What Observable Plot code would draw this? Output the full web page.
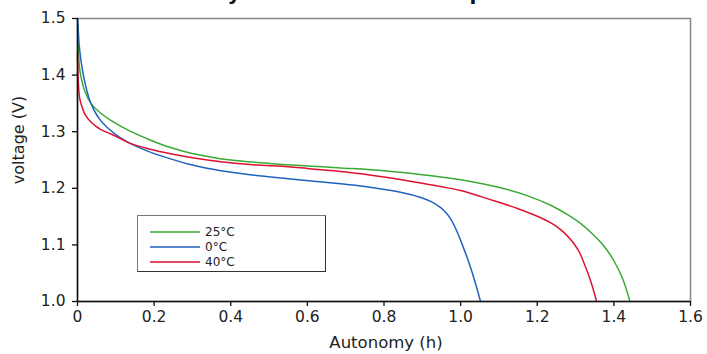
<!DOCTYPE html>
<html>
<head>
<meta charset="utf-8">
<script src="https://cdn.jsdelivr.net/npm/d3@7"></script>
<script src="https://cdn.jsdelivr.net/npm/@observablehq/plot@0.6"></script>
<style>
  html, body { margin: 0; padding: 0; background: #fff; overflow: hidden; }
  #wrap { position: relative; width: 707px; height: 354px; font-family: "DejaVu Sans", sans-serif; }
  #legend { position: absolute; left: 137px; top: 215px; width: 189px; height: 57px;
            border: 1px solid #777; border-right-color: #333; border-bottom-color: #333; background: #fff;
            font-size: 12px; color: #222; box-sizing: border-box; }
  .row { position: absolute; left: 12px; height: 15px; display: flex; align-items: center; }
  .row svg { margin-right: 5px; }
</style>
</head>
<body>
<div id="wrap"></div>
<script>
const title = "Battery life at different temperatures";
const xLabel = "Autonomy (h)";
const yLabel = "voltage (V)";
const series = ["25°C", "0°C", "40°C"];
const colors = ["#3aa935", "#1f63bd", "#dd1230"];

const xTicks = [0, 0.2, 0.4, 0.6, 0.8, 1.0, 1.2, 1.4, 1.6];
const xTickLabels = ["0", "0.2", "0.4", "0.6", "0.8", "1.0", "1.2", "1.4", "1.6"];
const yTicks = [1.0, 1.1, 1.2, 1.3, 1.4, 1.5];
const yTickLabels = ["1.0", "1.1", "1.2", "1.3", "1.4", "1.5"];

// 25°C
const t25Time = [0, 0.002, 0.005, 0.009, 0.02, 0.035, 0.06, 0.087, 0.14, 0.191, 0.243, 0.296, 0.35, 0.40, 0.5, 0.6, 0.687, 0.8, 0.9, 0.948, 1.0, 1.05, 1.104, 1.17, 1.235, 1.28, 1.313, 1.34, 1.365, 1.385, 1.40, 1.422, 1.442];
const t25Volt = [1.49, 1.45, 1.415, 1.397, 1.37, 1.35, 1.333, 1.32, 1.30, 1.285, 1.272, 1.262, 1.255, 1.250, 1.244, 1.2395, 1.236, 1.231, 1.224, 1.220, 1.215, 1.209, 1.201, 1.188, 1.170, 1.153, 1.138, 1.122, 1.105, 1.088, 1.072, 1.042, 1.0];
// 0°C
const t0Time = [0, 0.002, 0.004, 0.009, 0.02, 0.035, 0.06, 0.1, 0.139, 0.19, 0.243, 0.3, 0.374, 0.45, 0.55, 0.687, 0.75, 0.843, 0.9, 0.922, 0.948, 0.962, 0.974, 0.987, 1.0, 1.026, 1.052];
const t0Volt = [1.5, 1.48, 1.456, 1.426, 1.385, 1.35, 1.32, 1.295, 1.279, 1.264, 1.252, 1.241, 1.231, 1.224, 1.217, 1.208, 1.203, 1.193, 1.183, 1.177, 1.166, 1.157, 1.146, 1.129, 1.108, 1.06, 1.0];
// 40°C
const t40Time = [0, 0.002, 0.005, 0.009, 0.02, 0.035, 0.06, 0.087, 0.139, 0.19, 0.243, 0.3, 0.374, 0.45, 0.55, 0.6, 0.7, 0.8, 0.9, 0.948, 1.0, 1.078, 1.15, 1.209, 1.24, 1.261, 1.28, 1.296, 1.31, 1.322, 1.34, 1.355];
const t40Volt = [1.44, 1.39, 1.362, 1.35, 1.33, 1.317, 1.304, 1.296, 1.279, 1.269, 1.261, 1.254, 1.247, 1.242, 1.238, 1.235, 1.229, 1.220, 1.209, 1.203, 1.196, 1.180, 1.164, 1.148, 1.137, 1.127, 1.115, 1.102, 1.087, 1.068, 1.035, 1.0];

const times = [t25Time, t0Time, t40Time];
const volts = [t25Volt, t0Volt, t40Volt];
const data = series.flatMap((s, i) => times[i].map((t, j) => ({series: s, t, v: volts[i][j]})));

const fmt = (ticks, labels) => d => labels[ticks.findIndex(t => Math.abs(t - d) < 1e-9)];

const chart = Plot.plot({
  width: 707, height: 354,
  marginLeft: 77, marginRight: 17, marginTop: 18, marginBottom: 53,
  style: {fontFamily: "'DejaVu Sans', sans-serif", fontSize: "15px", color: "#222", background: "transparent", overflow: "visible"},
  x: {domain: [0, 1.6], label: null},
  y: {domain: [1.0, 1.5], label: null},
  color: {domain: series, range: colors},
  marks: [
    Plot.frame({stroke: "#888", strokeWidth: 1.5}),
    Plot.line(data, {x: "t", y: "v", z: "series", stroke: "series", strokeWidth: 1.5, curve: "catmull-rom"}),
    Plot.ruleX([0], {stroke: "#111", strokeWidth: 1.5}),
    Plot.ruleY([1.0], {stroke: "#111", strokeWidth: 1.5}),
    Plot.axisX({ticks: xTicks, tickSize: 5, tickPadding: 4, stroke: "#111", strokeWidth: 1.3, fontSize: 15.5, label: null,
                tickFormat: fmt(xTicks, xTickLabels)}),
    Plot.axisY({ticks: yTicks, tickSize: 5, tickPadding: 7, stroke: "#111", strokeWidth: 1.3, fontSize: 15.5, label: null,
                tickFormat: fmt(yTicks, yTickLabels)})
  ]
});

const svg = d3.select(chart);
svg.append("text").attr("x", 368).attr("y", -0.5).attr("text-anchor", "middle")
  .attr("font-size", 20).attr("font-weight", "bold").attr("fill", "#111").text(title);
svg.append("text").attr("x", 386).attr("y", 348).attr("text-anchor", "middle")
  .attr("font-size", 16.5).attr("fill", "#222").text(xLabel);
svg.append("text").attr("transform", "translate(24,140) rotate(-90)").attr("text-anchor", "middle")
  .attr("font-size", 16).attr("fill", "#222").text(yLabel);

const wrap = document.getElementById("wrap");
wrap.appendChild(chart);
const legend = document.createElement("div");
legend.id = "legend";
series.forEach((s, i) => {
  const row = document.createElement("div");
  row.className = "row";
  row.style.top = (8 + i * 15) + "px";
  row.innerHTML = `<svg width="50" height="4"><line x1="0" x2="50" y1="2" y2="2" stroke="${colors[i]}" stroke-width="1.5"/></svg>`;
  const lab = document.createElement("span");
  lab.textContent = s;
  row.appendChild(lab);
  legend.appendChild(row);
});
wrap.appendChild(legend);
</script>
</body>
</html>
